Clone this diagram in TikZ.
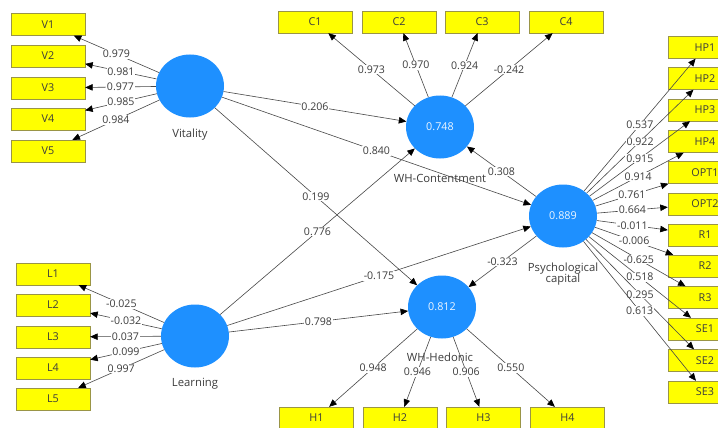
\documentclass[tikz,border=0pt]{standalone}
\usepackage{fontspec}
\setmainfont{Open Sans}
\usetikzlibrary{shapes.geometric,arrows.meta}
\definecolor{lvblue}{RGB}{30,144,255}
\definecolor{mvyellow}{RGB}{255,255,0}
\definecolor{txt}{RGB}{60,60,60}
\begin{document}
\begin{tikzpicture}[x=1pt,y=-1pt,
  mv/.style={draw=yellow!55!black, fill=mvyellow, minimum width=74pt, minimum height=22pt, inner sep=0pt, font=\fontsize{10.8}{12}\selectfont, text=txt, line width=0.4pt},
  lv/.style={ellipse, fill=lvblue, minimum width=68pt, minimum height=63pt, inner sep=0pt, text=white!92!lvblue, font=\fontsize{10.8}{12}\selectfont},
  lvname/.style={text=txt, font=\fontsize{11.3}{12.5}\selectfont, align=center, inner sep=0pt},
  conn/.style={draw=black!72, line width=0.6pt, -{Triangle[length=7.5pt,width=6.5pt,color=black]}},
  wt/.style={fill=white, inner sep=0.8pt, text=txt, font=\fontsize{10.6}{12}\selectfont, midway}
]
\useasboundingbox (0,0) rectangle (718,428);
\clip (0,0) rectangle (718,428);
\fill[white] (0,0) rectangle (718,428);

% latent variables
\node[lv] (vit) at (190,86) {};
\node[lv] (lea) at (195,336) {};
\node[lv] (whc) at (440,127) {0.748};
\node[lv] (whh) at (442,307) {0.812};
\node[lv] (pc) at (563,216) {0.889};

% names
\node[lvname] (nvit) at (190,135) {Vitality};
\node[lvname] (nlea) at (195,384) {Learning};
\node[lvname] (nwhc) at (440,178) {WH-Contentment};
\node[lvname] (nwhh) at (440,357) {WH-Hedonic};
\node[lvname] (npc) at (563,274) {Psychological\\[-1pt]capital};

% indicators
\node[mv] (v1) at (48,24.5) {V1};
\node[mv] (v2) at (48,56) {V2};
\node[mv] (v3) at (48,88) {V3};
\node[mv] (v4) at (48,119) {V4};
\node[mv] (v5) at (48,151) {V5};
\node[mv] (l1) at (53,274) {L1};
\node[mv] (l2) at (53,305) {L2};
\node[mv] (l3) at (53,337) {L3};
\node[mv] (l4) at (53,368) {L4};
\node[mv] (l5) at (53,399) {L5};
\node[mv] (c1) at (315,22) {C1};
\node[mv] (c2) at (399,22) {C2};
\node[mv] (c3) at (482,22) {C3};
\node[mv] (c4) at (566,22) {C4};
\node[mv] (h1) at (316.5,418) {H1};
\node[mv] (h2) at (400,418) {H2};
\node[mv] (h3) at (483.5,418) {H3};
\node[mv] (h4) at (567.5,418) {H4};
\node[mv] (hp1) at (705,47.5) {HP1};
\node[mv] (hp2) at (705,78.5) {HP2};
\node[mv] (hp3) at (705,110) {HP3};
\node[mv] (hp4) at (705,141.5) {HP4};
\node[mv] (opt1) at (705,172.5) {OPT1};
\node[mv] (opt2) at (705,204) {OPT2};
\node[mv] (r1) at (705,235) {R1};
\node[mv] (r2) at (705,266) {R2};
\node[mv] (r3) at (705,297.5) {R3};
\node[mv] (se1) at (705,329) {SE1};
\node[mv] (se2) at (705,360.5) {SE2};
\node[mv] (se3) at (705,392) {SE3};

% structural paths
\draw[conn] (vit) -- node[wt]{0.206} (whc);
\draw[conn] (vit) -- node[wt]{0.840} (pc);
\draw[conn] (vit) -- node[wt]{0.199} (whh);
\draw[conn] (lea) -- node[wt]{0.776} (whc);
\draw[conn] (lea) -- node[wt]{-0.175} (pc);
\draw[conn] (lea) -- node[wt]{0.798} (whh);
\draw[conn] (pc) -- node[wt]{0.308} (whc);
\draw[conn] (pc) -- node[wt]{-0.323} (whh);

% loadings
\draw[conn] (vit) -- node[wt]{0.979} (v1);
\draw[conn] (vit) -- node[wt]{0.981} (v2);
\draw[conn] (vit) -- node[wt]{0.977} (v3);
\draw[conn] (vit) -- node[wt]{0.985} (v4);
\draw[conn] (vit) -- node[wt]{0.984} (v5);
\draw[conn] (lea) -- node[wt]{-0.025} (l1);
\draw[conn] (lea) -- node[wt]{-0.032} (l2);
\draw[conn] (lea) -- node[wt]{0.037} (l3);
\draw[conn] (lea) -- node[wt]{0.099} (l4);
\draw[conn] (lea) -- node[wt]{0.997} (l5);
\draw[conn] (whc) -- node[wt]{0.973} (c1);
\draw[conn] (whc) -- node[wt]{0.970} (c2);
\draw[conn] (whc) -- node[wt]{0.924} (c3);
\draw[conn] (whc) -- node[wt]{-0.242} (c4);
\draw[conn] (whh) -- node[wt]{0.948} (h1);
\draw[conn] (whh) -- node[wt]{0.946} (h2);
\draw[conn] (whh) -- node[wt]{0.906} (h3);
\draw[conn] (whh) -- node[wt]{0.550} (h4);
\draw[conn] (pc) -- node[wt]{0.537} (hp1);
\draw[conn] (pc) -- node[wt]{0.922} (hp2);
\draw[conn] (pc) -- node[wt]{0.915} (hp3);
\draw[conn] (pc) -- node[wt]{0.914} (hp4);
\draw[conn] (pc) -- node[wt]{0.761} (opt1);
\draw[conn] (pc) -- node[wt]{0.664} (opt2);
\draw[conn] (pc) -- node[wt]{-0.011} (r1);
\draw[conn] (pc) -- node[wt]{-0.006} (r2);
\draw[conn] (pc) -- node[wt]{-0.625} (r3);
\draw[conn] (pc) -- node[wt]{0.518} (se1);
\draw[conn] (pc) -- node[wt]{0.295} (se2);
\draw[conn] (pc) -- node[wt]{0.613} (se3);
\end{tikzpicture}
\end{document}
